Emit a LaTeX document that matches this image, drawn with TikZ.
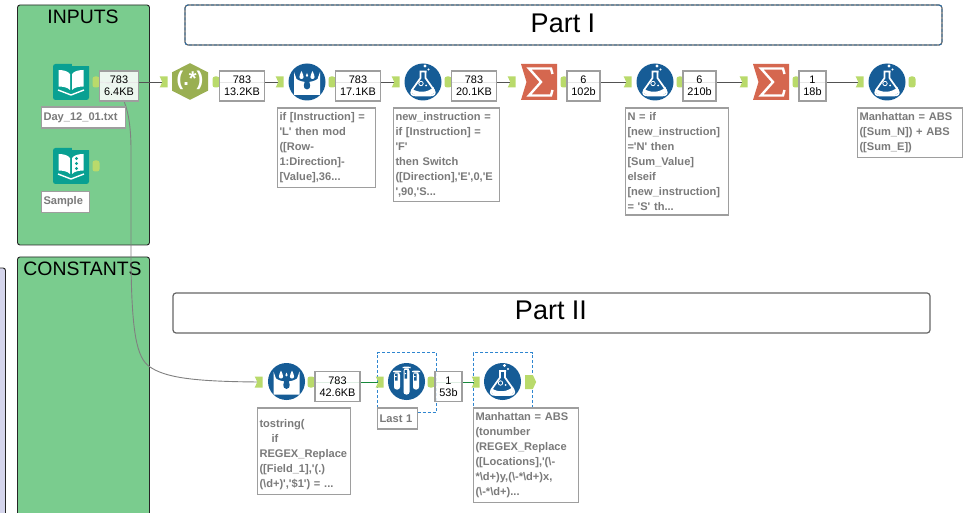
\documentclass[tikz,border=0pt]{standalone}
\usepackage{fontspec}
\setmainfont{Liberation Sans}
\newfontfamily\notefont{Liberation Sans}
\usepackage{xcolor}
\usepackage{tikz}
\usetikzlibrary{arrows.meta,positioning,shapes.symbols,backgrounds}

\definecolor{panelgreen}{HTML}{7ACC8E}
\definecolor{panelblue}{HTML}{D5D5EC}
\definecolor{toolblue}{HTML}{165C96}
\definecolor{bookteal}{HTML}{09A092}
\definecolor{regexgreen}{HTML}{9AAF52}
\definecolor{sumred}{HTML}{D5674F}
\definecolor{tabgreen}{HTML}{B9DA6B}
\definecolor{wirelive}{HTML}{16883A}
\definecolor{selblue}{HTML}{2F86D0}

\tikzset{
  % flask on a round tool
  flask/.pic={
    \draw[white, line width=1.7pt, line join=round] (-3.5,-10.5) -- (3.5,-10.5)
      (-2.5,-10.5) -- (-2.5,-4) -- (-11,8) .. controls (-13,12) and (-11,13.5) .. (-7,13.5)
      -- (7,13.5) .. controls (11,13.5) and (13,12) .. (11,8) -- (2.5,-4) -- (2.5,-10.5);
    \fill[white] (-10.5,7) .. controls (-5,11) and (5,11) .. (10.5,5)
      .. controls (12,10) and (11,13) .. (7,13) -- (-7,13) .. controls (-11,13) and (-12,10) .. (-10.5,7);
    \draw[white, line width=.8pt] (-2,1.5) circle (2.2);
    \fill[white] (3,3.5) circle (1);
    \fill[white] (2,-16) circle (1.6);
    \fill[white] (5.5,-12.5) circle (1.1);
  },
  % bucket with drops on a round tool
  bucket/.pic={
    \fill[white] (-13,-10) -- (-13,13) -- (13,13) -- (13,-10) -- (10.5,-3)
      .. controls (5,1) and (-5,1) .. (-10.5,-3) -- cycle;
    \fill[white] (-5.5,-11) .. controls (-3,-6) and (-2.5,-3) .. (-5.5,-3)
      .. controls (-8.5,-3) and (-8,-6) .. (-5.5,-11);
    \fill[white] (5.5,-11) .. controls (8,-6) and (8.5,-3) .. (5.5,-3)
      .. controls (2.5,-3) and (3,-6) .. (5.5,-11);
    \fill[toolblue] (0,-5) .. controls (3.5,1) and (5,7) .. (0,7.5)
      .. controls (-5,7) and (-3.5,1) .. (0,-5);
    \fill[white] (0,-9) .. controls (1.5,-6.5) and (1.5,-5.5) .. (0,-5)
      .. controls (-1.5,-5.5) and (-1.5,-6.5) .. (0,-9);
  },
  % three test tubes on a round tool
  tubes/.pic={
    \fill[white, rounded corners=2pt] (-13.5,-11) rectangle (-5.5,-9);
    \fill[white, rounded corners=2.5pt] (-12.5,-9) rectangle (-6.5,8);
    \fill[white, rounded corners=2pt] (-4,-15) rectangle (4,-13);
    \fill[white, rounded corners=2.5pt] (-3,-13) rectangle (3,13);
    \fill[white, rounded corners=2pt] (5.5,-11) rectangle (13.5,-9);
    \fill[white, rounded corners=2.5pt] (6.5,-9) rectangle (12.5,8);
    \fill[toolblue] (-11.5,-8) rectangle (-9,-1) (-1.8,-11.5) rectangle (.7,-3) (7.7,-8) rectangle (10.2,-1);
    \fill[white] (-11.5,-5.5) rectangle (-10,-4.5) (-1.8,-8.5) rectangle (-.3,-7.5) (7.7,-5.5) rectangle (9.2,-4.5);
  },
  % summarize tile with its sigma
  sigma/.pic={
    \fill[sumred] (-18,-18) -- (18,-18) -- (18,18) -- (-18,18) -- (-12.5,0) -- cycle;
    \draw[white, line width=2.4pt, line join=miter] (13.5,-8) -- (12,-13.5) -- (-10,-13.5) -- (2,0)
      -- (-10,13.5) -- (12,13.5) -- (13.5,8);
  },
  % hexagon behind the regex tool
  hexa/.pic={
    \fill[regexgreen] (0,-18.3) -- (18,-9.2) -- (18,9.2) -- (0,18.3) -- (-18,9.2) -- (-18,-9.2) -- cycle;
  },
  % open book on a teal tile
  openbook/.pic={
    \fill[panelgreen] (1,-18.5) rectangle (18.5,-16.3);
    \fill[white] (-12.5,-12) .. controls (-8,-12) and (-3,-11) .. (-1,-8) -- (-1,8)
      .. controls (-3,5.5) and (-8,4.5) .. (-12.5,4.5) -- cycle;
    \fill[white] (12.5,-12) .. controls (8,-12) and (3,-11) .. (1,-8) -- (1,8)
      .. controls (3,5.5) and (8,4.5) .. (12.5,4.5) -- cycle;
    \draw[white, line width=1.4pt] (-13,8) -- (0,13) -- (13,8);
  },
  bookdots/.pic={
    \fill[bookteal] (5.5,-7.5) circle (1.6) (5.5,-2.5) circle (1.6) (5.5,2.5) circle (1.6);
  },
}

\begin{document}
\begin{tikzpicture}[
  x=1pt, y=-1pt,
  every node/.style={outer sep=0pt},
  panel/.style={draw=black!85, line width=.9pt, fill=panelgreen, rounded corners=2.5pt,
    minimum width=132pt},
  paneltitle/.style={font=\fontsize{19.4}{22}\selectfont, text=black, inner sep=0pt},
  partbox/.style={draw=black!60, line width=1.2pt, fill=white, rounded corners=3pt,
    minimum width=757pt, minimum height=40pt},
  parttitle/.style={font=\fontsize{27}{30}\selectfont, inner sep=0pt},
  toolround/.style={circle, fill=toolblue, minimum size=37pt, inner sep=0pt},
  booktile/.style={fill=bookteal, rounded corners=2.5pt, minimum size=36pt, inner sep=0pt},
  regex/.style={text=white, inner sep=0pt, font=\fontsize{20}{20}\selectfont\bfseries},
  sumtile/.style={minimum size=0pt, inner sep=0pt},
  intab/.style={signal, signal to=nowhere, signal from=west, signal pointer angle=130,
    fill=tabgreen, minimum width=8pt, minimum height=11pt, inner sep=0pt},
  outtab/.style={rectangle, rounded corners=2.5pt, fill=tabgreen,
    minimum width=7pt, minimum height=11pt, inner sep=0pt},
  bigouttab/.style={signal, signal to=east, signal pointer angle=130,
    fill=tabgreen, minimum width=11pt, minimum height=14pt, inner sep=0pt},
  count/.style={draw=black!38, line width=1.1pt, fill=white, fill opacity=.86, text opacity=1,
    font=\fontsize{10.9}{12}\selectfont, align=center, inner sep=0pt,
    minimum height=30pt, text=black},
  note/.style={draw=black!38, line width=1.1pt, fill=white, anchor=north west, align=left,
    inner xsep=2pt, inner ysep=4.4pt, minimum height=21pt, text=black!52,
    font=\notefont\fontsize{11.1}{15}\selectfont\bfseries},
  selbox/.style={draw=selblue, line width=.9pt, densely dashed, anchor=north west},
  wire/.style={draw=black!68, line width=.9pt},
  livewire/.style={draw=wirelive, line width=.9pt},
]
\clip (0,0) rectangle (972,513);

% Part headers
\node[partbox, postaction={draw=selblue!80!black, line width=.9pt, densely dashed, rounded corners=3pt}] (partone) at (563.5,25) {};
\node[parttitle] (partonetxt) at (563,23) {Part I};
\node[partbox] (parttwo) at (551.5,313) {};
\node[parttitle] (parttwotxt) at (551,310) {Part II};

% Top row tools
\node[booktile] (input) at (71,82) {};
\pic at (input) {openbook};
\pic at (190,81.5) {hexa};
\node[regex] (parse) at (190,80) {(.*)};
\node[toolround] (formA) at (307,82) {};
\pic at (formA) {bucket};
\node[toolround] (formB) at (423,82) {};
\pic at (formB) {flask};
\node[sumtile] (sumA) at (539,82) {};
\pic at (sumA) {sigma};
\node[toolround] (formC) at (655,82) {};
\pic at (formC) {flask};
\node[sumtile] (sumB) at (771,82) {};
\pic at (sumB) {sigma};
\node[toolround] (formD) at (887,82) {};
\pic at (formD) {flask};

% Second input tool
\node[booktile] (sample) at (71,166) {};
\pic at (sample) {openbook};
\pic at (sample) {bookdots};

% Bottom row tools
\node[toolround] (formE) at (286.5,381.5) {};
\pic at (formE) {bucket};
\node[toolround] (last) at (406.5,381.5) {};
\pic at (last) {tubes};
\node[toolround] (formF) at (502.5,381.5) {};
\pic at (formF) {flask};

% Anchor tabs
\node[outtab] (inputout) at (96,82) {};
\node[outtab] (sampleout) at (96,166) {};
\node[intab] (parsein) at (165,82) {};
\node[outtab] (parseout) at (216,82) {};
\node[intab] (formAin) at (281,82) {};
\node[outtab] (formAout) at (332,82) {};
\node[intab] (formBin) at (397,82) {};
\node[outtab] (formBout) at (448,82) {};
\node[intab] (sumAin) at (513,82) {};
\node[outtab] (sumAout) at (564,82) {};
\node[intab] (formCin) at (629,82) {};
\node[outtab] (formCout) at (680,82) {};
\node[intab] (sumBin) at (745,82) {};
\node[outtab] (sumBout) at (796,82) {};
\node[intab] (formDin) at (861,82) {};
\node[outtab] (formDout) at (912,82) {};
\node[intab] (formEin) at (260,382) {};
\node[outtab] (formEout) at (311,382) {};
\node[intab] (lastin) at (381,382) {};
\node[outtab] (lastout) at (431,382) {};
\node[intab] (formFin) at (477,382) {};
\node[bigouttab] (formFout) at (529,382) {};

% Record counts
\node[count, minimum width=39pt] (cntA) at (119,86) {783\\6.4KB};
\node[count, minimum width=45pt] (cntB) at (242,86) {783\\13.2KB};
\node[count, minimum width=45pt] (cntC) at (358,86) {783\\17.1KB};
\node[count, minimum width=45pt] (cntD) at (474,86) {783\\20.1KB};
\node[count, minimum width=33pt] (cntE) at (583.5,86) {6\\102b};
\node[count, minimum width=33pt] (cntF) at (699.5,86) {6\\210b};
\node[count, minimum width=27pt] (cntG) at (812.5,86) {1\\18b};
\node[count, minimum width=45pt] (cntH) at (337.5,386.5) {783\\42.6KB};
\node[count, minimum width=27pt] (cntI) at (448.5,386.5) {1\\53b};

% Annotations
\node[note, text width=80pt] (noteinput) at (41.5,107) {Day\_12\_01.txt};
\node[note, text width=44pt] (notesample) at (41.5,191.5) {Sample};
\node[note, text width=94pt] (noteA) at (277.5,108) {if [Instruction] =\\'L' then mod\\([Row-\\1:Direction]-\\{}[Value],36...};
\node[note, text width=102pt] (noteB) at (393.5,108) {new\_instruction =\\if [Instruction] =\\'F'\\then Switch\\([Direction],'E',0,'E\\',90,'S...};
\node[note, text width=99pt] (noteC) at (625.5,108) {N = if\\{}[new\_instruction]\\='N' then\\{}[Sum\_Value]\\elseif\\{}[new\_instruction]\\= 'S' th...};
\node[note, text width=101pt] (noteD) at (857.5,108) {Manhattan = ABS\\([Sum\_N]) + ABS\\([Sum\_E])};
\node[note, text width=89pt] (noteE) at (257.5,408) {~\\tostring(\\\hspace*{12pt}if\\REGEX\_Replace\\([Field\_1],'(.)\\(\textbackslash d+)','\$1') = ...};
\node[note, text width=36pt] (notelast) at (377.7,408) {Last 1};
\node[note, text width=101pt] (noteF) at (473.5,408) {Manhattan = ABS\\(tonumber\\(REGEX\_Replace\\([Locations],'(\textbackslash -\\{}*\textbackslash d+)y,(\textbackslash -*\textbackslash d+)x,\\(\textbackslash -*\textbackslash d+)...};

\begin{scope}[on background layer]
  \fill[white] (0,0) rectangle (972,513);
  % Side panels
  \node[draw=black!85, line width=.9pt, fill=panelblue, rounded corners=2.5pt, minimum width=20pt, minimum height=260pt] (sidepanel) at (-4.5,398) {};
  \node[panel, minimum height=240pt] (inputs) at (83.5,125) {};
  \node[paneltitle] (inputstitle) at (83,17) {INPUTS};
  \node[panel, minimum height=270pt] (constants) at (83.5,392) {};
  \node[paneltitle] (constantstitle) at (82.5,269) {CONSTANTS};

  % Selected tools
  \node[selbox, minimum width=59pt, minimum height=59.5pt] (sellast) at (377.7,352.7) {};
  \node[selbox, minimum width=59.5pt, minimum height=56pt] (selform) at (473.3,352.7) {};

  % Connectors
  \draw[wire] (inputout) -- (parsein);
  \draw[wire] (parseout) -- (formAin);
  \draw[wire] (formAout) -- (formBin);
  \draw[wire] (formBout) -- (sumAin);
  \draw[wire] (sumAout) -- (formCin);
  \draw[wire] (formCout) -- (sumBin);
  \draw[wire] (sumBout) -- (formDin);
  \draw[wire, draw=black!50] (inputout) .. controls (118,82) and (131,100) .. (131,150) -- (131,265)
    .. controls (132,330) and (136,358) .. (150,367) .. controls (165,377) and (190,381.5) .. (formEin);
  \draw[livewire] (formEout) -- (lastin);
  \draw[livewire] (lastout) -- (formFin);
\end{scope}
\end{tikzpicture}
\end{document}
